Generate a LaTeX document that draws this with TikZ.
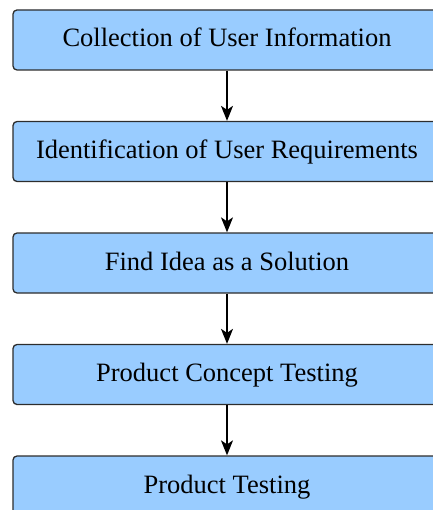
\documentclass[tikz,border=0pt]{standalone}
\usepackage{fontspec}
\setmainfont{Liberation Serif}
\usetikzlibrary{shapes,arrows.meta,calc}
\definecolor{stagefill}{RGB}{153,204,255}
\definecolor{stageline}{RGB}{45,45,45}

\tikzset{stagebox/.style={draw=stageline, line width=1.3pt, fill=stagefill,
    rounded corners=4pt, minimum width=428pt, minimum height=60pt,
    inner sep=0pt, text height=20pt, text depth=6pt,
    font=\fontsize{26.5}{30}\selectfont}}

\begin{document}
\begin{tikzpicture}[x=1pt, y=-1pt, >={Stealth[length=15pt,width=12pt,inset=4pt]}]
\useasboundingbox (0,0) rectangle (432,510);

\node[stagebox] at (227, 40) (COLLECT) {Collection of User Information};
\node[stagebox] at (227, 151.5) (IDENTIFY) {Identification of User Requirements};
\node[stagebox] at (227, 263) (IDEA) {Find Idea as a Solution};
\node[stagebox] at (227, 374.5) (CONCEPT) {Product Concept Testing};
\node[stagebox] at (227, 486) (TESTING) {Product Testing};

    \draw [->, line width=1.2pt] (COLLECT) to (IDENTIFY);
    \draw [->, line width=1.2pt] (IDENTIFY) to (IDEA);
    \draw [->, line width=1.2pt] (IDEA) to (CONCEPT);
    \draw [->, line width=1.2pt] (CONCEPT) to (TESTING);
\end{tikzpicture}
\end{document}
